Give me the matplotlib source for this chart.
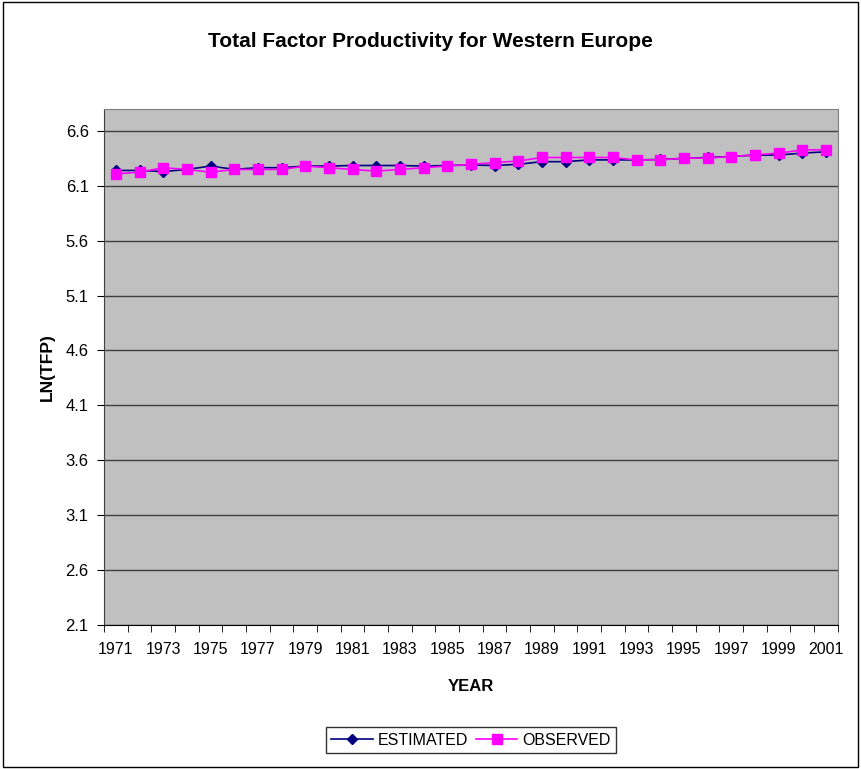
import matplotlib.pyplot as plt
import numpy as np
from matplotlib.patches import Rectangle

plt.rcParams['font.family'] = ['Liberation Sans', 'DejaVu Sans']

years = list(range(1971, 2002))
estimated = [6.240, 6.240, 6.230, 6.249, 6.280, 6.250, 6.265, 6.265, 6.280, 6.280,
             6.285, 6.285, 6.285, 6.280, 6.285, 6.290, 6.285, 6.296, 6.320, 6.320,
             6.336, 6.336, 6.336, 6.340, 6.350, 6.358, 6.367, 6.380, 6.380, 6.398,
             6.410]
observed = [6.209, 6.224, 6.265, 6.249, 6.224, 6.249, 6.249, 6.249, 6.280, 6.265,
            6.249, 6.234, 6.249, 6.265, 6.280, 6.296, 6.311, 6.326, 6.358, 6.358,
            6.358, 6.358, 6.336, 6.336, 6.352, 6.352, 6.367, 6.382, 6.398, 6.426,
            6.429]
y_ticks = [2.1, 2.6, 3.1, 3.6, 4.1, 4.6, 5.1, 5.6, 6.1, 6.6]

fig = plt.figure(figsize=(8.61, 7.69), dpi=100)
ax = fig.add_axes([0.1208, 0.1873, 0.8522, 0.671])
ax.set_facecolor('#C0C0C0')

x = np.arange(len(years))
ax.plot(x, estimated, color='#000080', marker='D', markersize=5.5, linewidth=1.2,
        label='ESTIMATED', zorder=3)
ax.plot(x, observed, color='#FF00FF', marker='s', markersize=7.5, linewidth=1.2,
        label='OBSERVED', zorder=4)

ax.set_xlim(-0.5, len(years) - 0.5)
ax.set_ylim(2.1, 6.8)
ax.set_yticks(y_ticks)
ax.set_yticklabels([f'{v:.1f}' for v in y_ticks], fontsize=12)
ax.yaxis.grid(True, color='#404040', linewidth=1)
ax.set_axisbelow(True)

# category axis: ticks between years, labels on every second year
ax.set_xticks(x[::2])
ax.set_xticklabels([str(y) for y in years[::2]], fontsize=11.5)
ax.set_xticks(np.arange(-0.5, len(years), 1), minor=True)
ax.tick_params(axis='x', which='major', length=0, pad=12)
ax.tick_params(axis='x', which='minor', length=5, color='black')
ax.tick_params(axis='y', length=5, color='black', pad=6)

for side in ['top', 'right']:
    ax.spines[side].set_color('#808080')
ax.spines['left'].set_color('#404040')
ax.spines['bottom'].set_color('black')

ax.set_xlabel('YEAR', fontsize=12, fontweight='bold', labelpad=16)
ax.set_ylabel('LN(TFP)', fontsize=12.5, fontweight='bold', labelpad=8)
fig.text(0.5, 0.946, 'Total Factor Productivity for Western Europe',
         ha='center', va='center', fontsize=15, fontweight='bold')

leg = fig.legend(loc='center', bbox_to_anchor=(0.547, 0.0377), ncol=2,
                 fontsize=11.5, frameon=True, fancybox=False,
                 edgecolor='black', handlelength=2.6, columnspacing=0.5,
                 handletextpad=0.3, borderpad=0.35)
leg.get_frame().set_linewidth(1)

fig.patches.append(Rectangle((0.004, 0.002), 0.992, 0.995, transform=fig.transFigure,
                             fill=False, edgecolor='black', linewidth=1))

fig.savefig('out.png', dpi=100)
